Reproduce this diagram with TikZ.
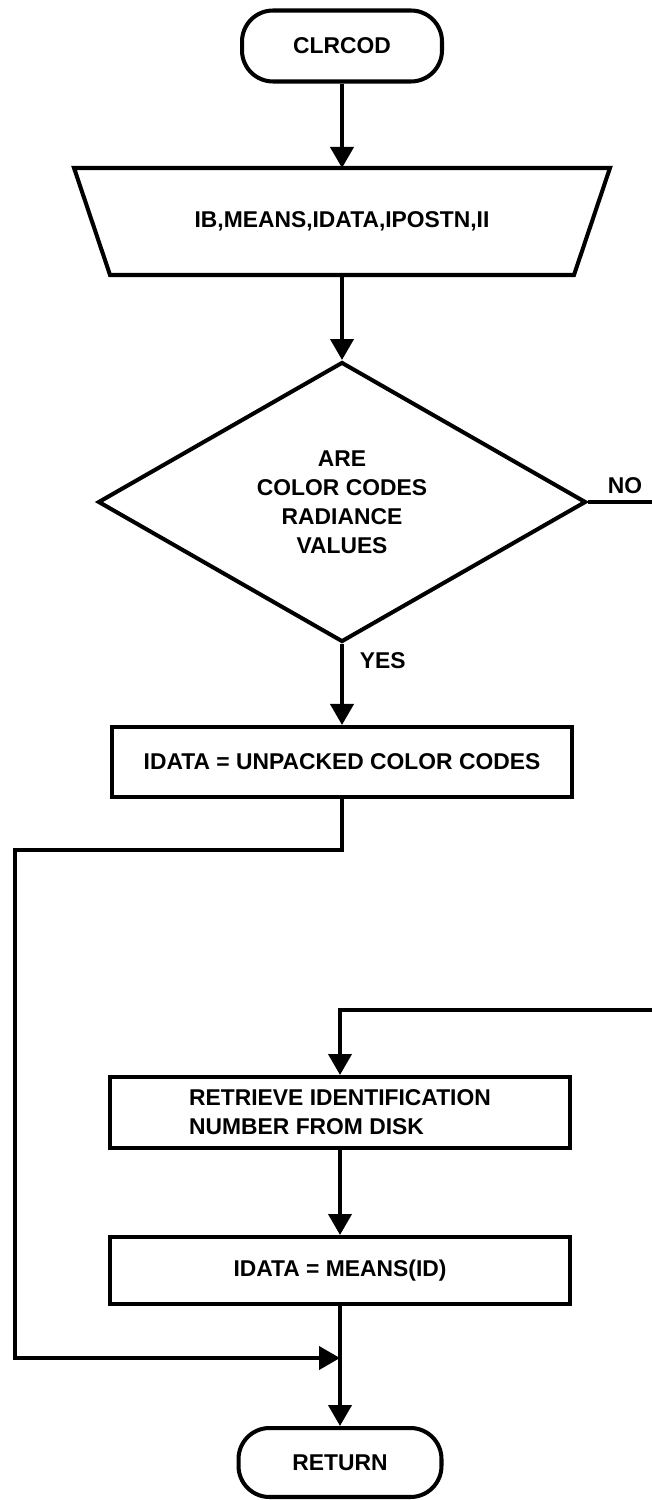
\documentclass[tikz,border=0pt]{standalone}
\usepackage{fontspec}
\setmainfont{Liberation Sans}
\usepackage{tikz}
\usetikzlibrary{shapes, arrows.meta, calc}

\begin{document}
\begin{tikzpicture}[x=0.02cm, y=-0.02cm, line width=2.3pt,
	every node/.style={font=\bfseries\fontsize{13pt}{16.5pt}\selectfont},
	terminal/.style={draw, rectangle, rounded corners=0.62cm, minimum width=4cm, minimum height=1.42cm},
	procbox/.style={draw, rectangle, minimum width=9.2cm, minimum height=1.4cm, inner sep=0pt},
	decision/.style={draw, diamond, minimum width=9.76cm, minimum height=5.6cm, inner sep=0pt, align=center},
	flow/.style={-{Triangle[length=0.42cm, width=0.46cm]}}]
			\useasboundingbox (0,0) rectangle (652,1500);
			
			\node[terminal] (start) at (342,46) {CLRCOD};
			\node[minimum width=10.64cm, minimum height=2.06cm, inner sep=0pt] (input) at (342,221.5) {IB,MEANS,IDATA,IPOSTN,II};
			\draw (input.north west) -- (input.north east) -- ($(input.south east)+(-36,0)$) -- ($(input.south west)+(36,0)$) -- cycle;
			\node[decision] (cond) at (342,502) {ARE\\COLOR CODES\\RADIANCE\\VALUES};
			\node[procbox] (unpack) at (342,762) {IDATA = UNPACKED COLOR CODES};
			\node[procbox, align=left, minimum height=1.42cm] (fetch) at (340,1112.5) {RETRIEVE IDENTIFICATION\\NUMBER FROM DISK};
			\node[procbox, minimum height=1.34cm] (assign) at (340,1270.5) {IDATA = MEANS(ID)};
			\node[terminal, minimum width=4.06cm, minimum height=1.38cm] (return) at (340,1462.5) {RETURN};
			
			%% the NO branch leaves the sheet and comes back
			\coordinate (noEnd) at (652,502);
			\coordinate (noBack) at (652,1010);
			\coordinate (leftTop) at (15,850);
			\coordinate (merge) at (340,1358);
			
			\draw[flow] (start) -- (input);
			\draw[flow] (input) -- (cond);
			\draw[flow] (cond) -- node[pos=0.21, right=0.2cm] {YES} (unpack);
			\draw (cond) -- node[pos=0.58, above] {NO} (noEnd);
			\draw[flow] (noBack) -| (fetch);
			\draw[flow] (unpack) |- (leftTop) |- (merge);
			\draw[flow] (fetch) -- (assign);
			\draw[flow] (assign) -- (return);
\end{tikzpicture}
\end{document}
